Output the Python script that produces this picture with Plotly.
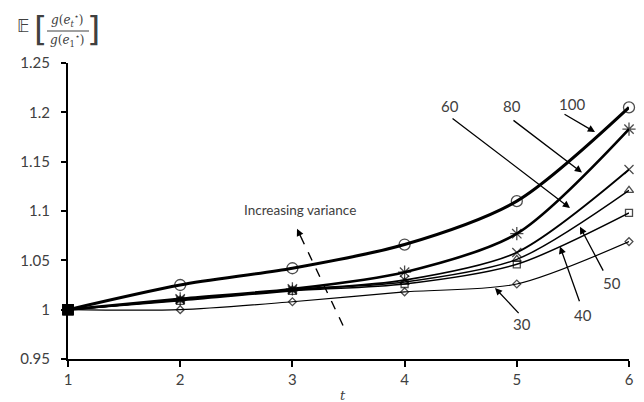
import plotly.graph_objects as go

t = [1, 2, 3, 4, 5, 6]
series_names = ["30", "40", "50", "60", "80", "100"]
v30 = [1.000, 1.000, 1.008, 1.018, 1.026, 1.069]
v40 = [1.000, 1.009, 1.019, 1.026, 1.046, 1.098]
v50 = [1.000, 1.010, 1.020, 1.028, 1.051, 1.121]
v60 = [1.000, 1.010, 1.020, 1.030, 1.058, 1.142]
v80 = [1.000, 1.011, 1.021, 1.038, 1.077, 1.183]
v100 = [1.000, 1.025, 1.042, 1.066, 1.110, 1.205]
y_ticks = [0.95, 1.0, 1.05, 1.1, 1.15, 1.2, 1.25]
y_tick_labels = ["0.95", "1", "1.05", "1.1", "1.15", "1.2", "1.25"]

values = [v30, v40, v50, v60, v80, v100]
symbols = ["diamond-open", "square-open", "triangle-up-open", "x-thin-open", "asterisk-open", "circle-open"]
msizes = [6, 7, 8, 9, 11, 11]
lwidths = [1.2, 1.5, 1.5, 1.8, 2.6, 3.0]

fig = go.Figure()
for name, v, sym, ms, lw in zip(series_names, values, symbols, msizes, lwidths):
    fig.add_trace(go.Scatter(
        x=t, y=v, mode="lines+markers", name=name,
        line=dict(color="black", width=lw, shape="spline", smoothing=0.8),
        marker=dict(symbol=["square"] + [sym] * (len(t) - 1),
                    size=[10] + [ms] * (len(t) - 1),
                    color="black", line=dict(color="black", width=1.3)),
        showlegend=False, cliponaxis=False,
    ))

F = "Lato, 'Open Sans', sans-serif"
TXT = "#404040"

# page offset (default body margin) compensation
OFF = 8
W, H = 644, 402
L, R, T, B = 68 - OFF, 23, 63 - OFF, 51
pw = W - L - R
ph = H - T - B
def px(x):
    return (x - OFF - L) / pw
def py(y):
    return (H + OFF - B - y) / ph

# arrows: (label, label_x, label_y, tail_x, tail_y, head_x, head_y)
arrows = [
    ("60", 4.405, 1.206, 4.414, 1.195, 5.474, 1.103),
    ("80", 4.957, 1.206, 4.957, 1.193, 5.581, 1.139),
    ("100", 5.49, 1.208, 5.412, 1.199, 5.697, 1.180),
    ("50", 5.85, 1.027, 5.777, 1.038, 5.563, 1.084),
    ("40", 5.59, 0.995, 5.563, 1.007, 5.385, 1.064),
    ("30", 5.05, 0.985, 5.029, 0.995, 4.806, 1.022),
]
ann = []
for lab, lx, ly, tx, ty, hx, hy in arrows:
    ann.append(dict(x=hx, y=hy, ax=tx, ay=ty, xref="x", yref="y", axref="x", ayref="y",
                    text="", showarrow=True, arrowhead=2, arrowsize=1.1, arrowwidth=1.3,
                    arrowcolor="black"))
    ann.append(dict(x=lx, y=ly, xref="x", yref="y", text=lab, showarrow=False,
                    xanchor="center", yanchor="middle",
                    font=dict(family=F, size=15, color=TXT)))

# dashed "increasing variance" arrow
dash_tail = (3.451, 0.984)
dash_head = (3.041, 1.082)
fig.add_shape(type="line", x0=dash_tail[0], y0=dash_tail[1],
              x1=dash_tail[0] + (dash_head[0] - dash_tail[0]) * 0.9,
              y1=dash_tail[1] + (dash_head[1] - dash_tail[1]) * 0.9,
              xref="x", yref="y", line=dict(color="black", width=1.4, dash="dash"))
ann.append(dict(x=dash_head[0], y=dash_head[1],
                ax=dash_tail[0] + (dash_head[0] - dash_tail[0]) * 0.88,
                ay=dash_tail[1] + (dash_head[1] - dash_tail[1]) * 0.88,
                xref="x", yref="y", axref="x", ayref="y", text="", showarrow=True,
                arrowhead=2, arrowsize=1.1, arrowwidth=1.3, arrowcolor="black"))
ann.append(dict(x=3.07, y=1.101, xref="x", yref="y", text="Increasing variance",
                xanchor="center", yanchor="middle",
                showarrow=False, font=dict(family=F, size=13.5, color=TXT)))

def pann(x, y, text, family, size):
    return dict(x=px(x), y=py(y), xref="paper", yref="paper", text=text, showarrow=False,
                xanchor="center", yanchor="middle", font=dict(family=family, size=size, color=TXT))

SER = "DejaVu Serif"
# x axis title
ann.append(pann(343, 395, "<i>t</i>", SER, 13))
# y axis title: E[ g(e_t*) / g(e_1*) ]
ann += [
    pann(23, 26, "𝔼", "DejaVu Sans", 17),
    pann(40, 29, "[", "DejaVu Sans", 34),
    pann(93, 29, "]", "DejaVu Sans", 34),
    pann(67, 20, "<i>g</i>(<i>e</i><sub><i>t</i></sub><sup>⋆</sup>)", SER, 12),
    pann(67, 40, "<i>g</i>(<i>e</i><sub>1</sub><sup>⋆</sup>)", SER, 12),
]
fig.add_shape(type="line", x0=px(47), x1=px(89), y0=py(31), y1=py(31),
              xref="paper", yref="paper", line=dict(color=TXT, width=1))

fig.update_layout(
    width=W, height=H,
    margin=dict(l=L, r=R, t=T, b=B, autoexpand=False),
    paper_bgcolor="white", plot_bgcolor="white",
    xaxis=dict(range=[1, 6], tickvals=t, ticktext=[str(i) for i in t], automargin=False,
               showgrid=False, zeroline=False, showline=True, linecolor="black", linewidth=2,
               ticks="outside", ticklen=6, tickwidth=2, tickcolor="black",
               tickfont=dict(family=F, size=15, color=TXT)),
    yaxis=dict(range=[0.95, 1.25], tickvals=y_ticks, ticktext=y_tick_labels, automargin=False,
               showgrid=False, zeroline=False, showline=True, linecolor="black", linewidth=2,
               ticks="outside", ticklen=5, tickwidth=1.5, tickcolor="black",
               ticklabelstandoff=8,
               tickfont=dict(family=F, size=15, color=TXT)),
    annotations=ann,
)
fig.write_html("out.html")
